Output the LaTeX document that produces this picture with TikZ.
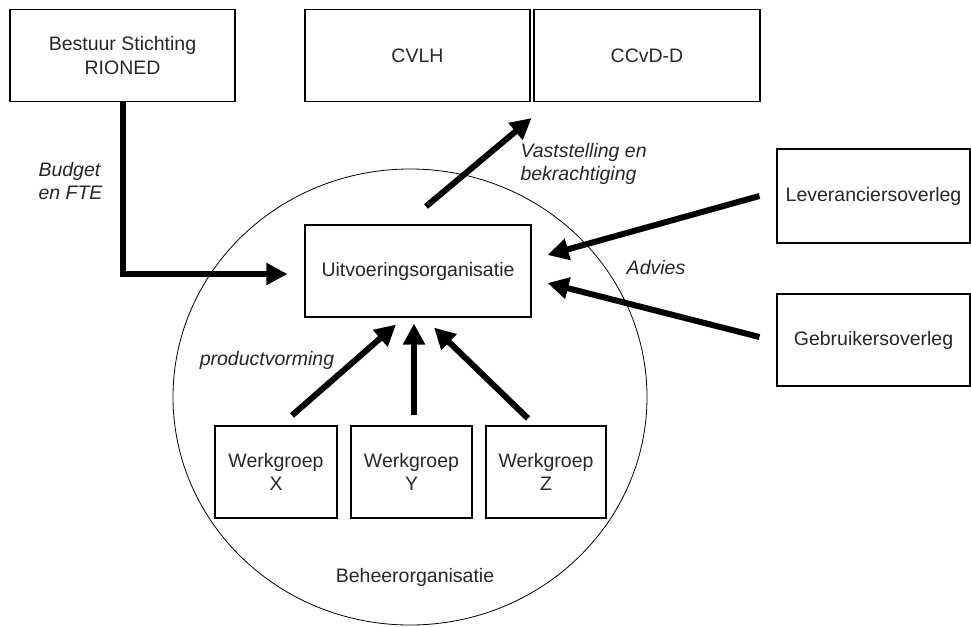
\documentclass[tikz,border=0pt]{standalone}
\usepackage{fontspec}
\setmainfont{Liberation Sans}
\usetikzlibrary{arrows.meta,shapes.geometric}

\begin{document}
\begin{tikzpicture}[x=1pt,y=-1pt]
  \tikzstyle{every node}=[font=\fontsize{19.5}{23.5}\selectfont, text=black!85]
  \tikzstyle{box}=[draw, line width=1.1pt, inner sep=0pt, align=center, minimum height=92pt]
  \tikzstyle{lbl}=[font=\fontsize{19.5}{23.5}\selectfont\itshape, align=left]
  \tikzstyle{fat arrow}=[line width=6pt, -{Triangle[length=21pt,width=21pt]}]
  \useasboundingbox (0,0) rectangle (971,626);
  % beheerorganisatie
  \node[draw, ellipse, line width=0.8pt, inner sep=0pt, minimum width=474pt, minimum height=456pt] (beheer) at (410,397) {};
  \node (beheertxt) at (415,577) {Beheerorganisatie};
  % boxes
  \node[box, minimum width=225pt] (bestuur) at (122.5,55.5) {Bestuur Stichting\\RIONED};
  \node[box, minimum width=225pt] (cvlh) at (417.5,55.5) {CVLH};
  \node[box, minimum width=226pt] (ccvd) at (647,55.5) {CCvD-D};
  \node[box, minimum width=226pt] (uitv) at (418,271) {Uitvoeringsorganisatie};
  \node[box, minimum width=193pt, minimum height=94pt] (lever) at (873.5,196) {Leveranciersoverleg};
  \node[box, minimum width=193pt] (gebr) at (873.5,340) {Gebruikersoverleg};
  \node[box, minimum width=122pt] (wgx) at (276,472) {Werkgroep\\X};
  \node[box, minimum width=121pt] (wgy) at (411.5,472) {Werkgroep\\Y};
  \node[box, minimum width=120pt] (wgz) at (546,472) {Werkgroep\\Z};
  % arrows
  \draw[fat arrow] (bestuur.south) |- ([xshift=-17pt,yshift=-3pt]uitv.west);
  \draw[fat arrow] ([xshift=8pt,yshift=18pt]uitv.north) -- ([xshift=1pt,yshift=-16pt]cvlh.south east);
  \draw[fat arrow] ([xshift=-17pt]lever.west) -- ([xshift=16pt,yshift=16pt]uitv.east);
  \draw[fat arrow] ([xshift=-17pt,yshift=3pt]gebr.west) -- ([xshift=16pt,yshift=-12pt]uitv.east);
  \draw[fat arrow] ([xshift=16pt,yshift=10pt]wgx.north) -- ([xshift=-22pt,yshift=-7pt]uitv.south);
  \draw[fat arrow] ([xshift=2.5pt,yshift=10pt]wgy.north) -- ([xshift=-4pt,yshift=-6pt]uitv.south);
  \draw[fat arrow] ([xshift=-18pt,yshift=7pt]wgz.north) -- ([xshift=16pt,yshift=-10pt]uitv.south);
  % labels
  \node[lbl, anchor=west] (budget) at (35,181) {Budget\\en FTE};
  \node[lbl, anchor=west] (vast) at (517,164) {Vaststelling en\\bekrachtiging};
  \node[lbl] (advies) at (656,268) {Advies};
  \node[lbl] (product) at (267,360) {productvorming};
\end{tikzpicture}
\end{document}
